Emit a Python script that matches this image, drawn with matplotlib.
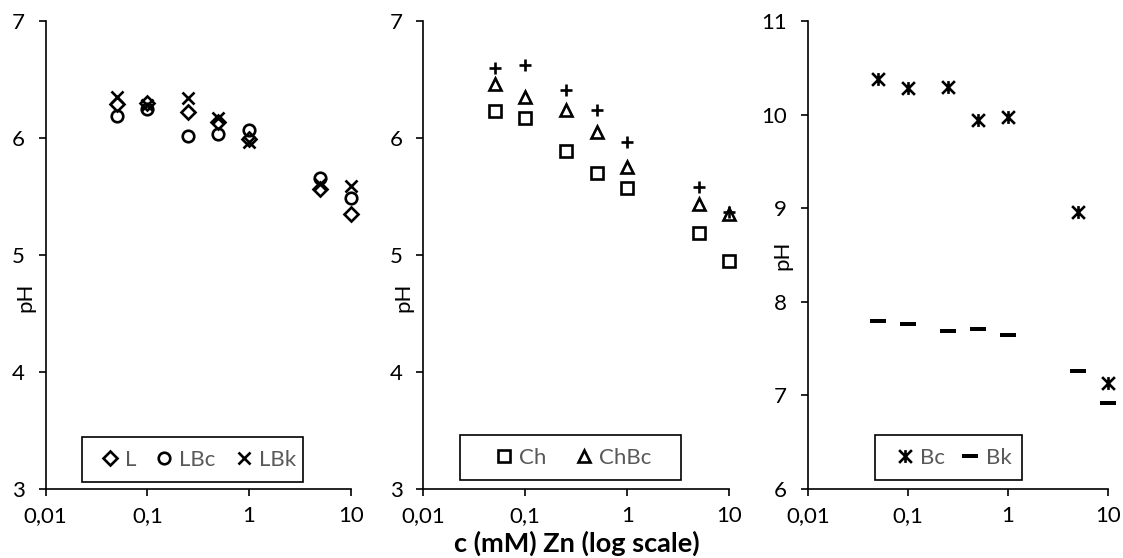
import numpy as np
import matplotlib
matplotlib.use("Agg")
import matplotlib.pyplot as plt
from matplotlib.path import Path
from matplotlib.patches import Rectangle
from matplotlib.ticker import FixedLocator, FixedFormatter, NullLocator

plt.rcParams['font.family'] = ['Lato', 'DejaVu Sans']

# Zn concentration (mM)
conc = [0.05, 0.1, 0.25, 0.5, 1, 5, 10]

# panel 1
ph_L = [6.29, 6.30, 6.22, 6.14, 5.99, 5.56, 5.35]
ph_LBc = [6.19, 6.25, 6.02, 6.03, 6.07, 5.66, 5.49]
ph_LBk = [6.35, 6.28, 6.34, 6.17, 5.97, 5.61, 5.59]

# panel 2
ph_Ch = [6.23, 6.17, 5.89, 5.70, 5.57, 5.19, 4.95]
ph_ChBc = [6.46, 6.35, 6.24, 6.05, 5.75, 5.44, 5.35]
ph_ChBk = [6.60, 6.62, 6.41, 6.24, 5.97, 5.58, 5.37]

# panel 3
ph_Bc = [10.38, 10.28, 10.29, 9.94, 9.97, 8.96, 7.13]
ph_Bk = [7.79, 7.76, 7.69, 7.705, 7.645, 7.26, 6.915]

xticks = [0.01, 0.1, 1, 10]
xticklabels = ['0,01', '0,1', '1', '10']

W, H = 1123, 558
FS = 16
fig = plt.figure(figsize=(W / 100, H / 100), dpi=100)


def px_axes(x0, y0, x1, y1):
    return fig.add_axes([x0 / W, 1 - y1 / H, (x1 - x0) / W, (y1 - y0) / H])


# excel style star (x with vertical bar) and dash markers
star = Path([(-1, -1), (1, 1), (-1, 1), (1, -1), (0, -1), (0, 1)],
            [Path.MOVETO, Path.LINETO, Path.MOVETO, Path.LINETO, Path.MOVETO, Path.LINETO])
dash = Path([(-1, -0.25), (1, -0.25), (1, 0.25), (-1, 0.25), (-1, -0.25)],
            [Path.MOVETO, Path.LINETO, Path.LINETO, Path.LINETO, Path.CLOSEPOLY])

open_kw = dict(ls='none', mfc='none', mec='black', mew=1.9, clip_on=False)


def style(ax, ylim, yticks):
    ax.set_xscale('log')
    ax.set_xlim(0.01, 10)
    ax.set_ylim(*ylim)
    ax.xaxis.set_major_locator(FixedLocator(xticks))
    ax.xaxis.set_major_formatter(FixedFormatter(xticklabels))
    ax.xaxis.set_minor_locator(NullLocator())
    ax.set_yticks(yticks)
    for s in ['top', 'right']:
        ax.spines[s].set_visible(False)
    for s in ['left', 'bottom']:
        ax.spines[s].set_linewidth(1.2)
    ax.tick_params(axis='both', direction='out', length=5, width=1.2, labelsize=FS)
    ax.tick_params(axis='x', pad=7)
    ax.tick_params(axis='y', pad=10)


def legend_at(ax, x, yc, colspace, frame):
    leg = ax.legend(loc='center left', bbox_to_anchor=(x / W, 1 - yc / H),
                    bbox_transform=fig.transFigure, ncol=3, frameon=False,
                    fontsize=FS, handlelength=1.0, handletextpad=0.18,
                    columnspacing=colspace, borderpad=0, borderaxespad=0)
    for t in leg.get_texts():
        t.set_color('#595959')
    fx0, fy0, fx1, fy1 = frame
    fig.patches.append(Rectangle((fx0 / W, 1 - fy1 / H), (fx1 - fx0) / W, (fy1 - fy0) / H,
                                 transform=fig.transFigure, fill=False,
                                 edgecolor='black', linewidth=1.2))


# panel 1
ax1 = px_axes(45.7, 21, 350.7, 489)
ax1.plot(conc, ph_L, marker='D', ms=6.9, label='L', **open_kw)
ax1.plot(conc, ph_LBc, marker='o', ms=8.3, label='LBc', **open_kw)
ax1.plot(conc, ph_LBk, marker='x', ms=8.8, label='LBk', **open_kw)
style(ax1, (3, 7), [3, 4, 5, 6, 7])
ax1.set_ylabel('pH', fontsize=FS, ha='center', va='center', rotation_mode='default')
ax1.yaxis.set_label_coords(-0.068, 0.41)
legend_at(ax1, 99, 459.5, 0.75, (82, 437, 303, 482))

# panel 2
ax2 = px_axes(423.3, 21, 729.3, 489)
ax2.plot(conc, ph_Ch, marker='s', ms=8.3, label='Ch', **open_kw)
ax2.plot(conc, ph_ChBc, marker='^', ms=8.6, label='ChBc', **open_kw)
ax2.plot(conc, ph_ChBk, marker='+', ms=9.2, ls='none', mec='black', mew=1.9, clip_on=False)
style(ax2, (3, 7), [3, 4, 5, 6, 7])
ax2.set_ylabel('pH', fontsize=FS, ha='center', va='center', rotation_mode='default')
ax2.yaxis.set_label_coords(-0.066, 0.41)
legend_at(ax2, 493, 457.5, 1.2, (460, 435, 681, 480))

# panel 3
ax3 = px_axes(808, 21, 1107.7, 489)
ax3.plot(conc, ph_Bc, marker=star, ms=9.2, label='Bc', **open_kw)
ax3.plot(conc, ph_Bk, marker=dash, ms=11.5, ls='none', mfc='black', mec='black', mew=0,
         label='Bk', clip_on=False)
style(ax3, (6, 11), [6, 7, 8, 9, 10, 11])
ax3.set_ylabel('pH', fontsize=FS, ha='center', va='center', rotation_mode='default')
ax3.yaxis.set_label_coords(-0.087, 0.5)
legend_at(ax3, 893.7, 457.5, 0.65, (875, 435, 1021.7, 480))

fig.text(577 / W, 1 - 543 / H, 'c (mM) Zn (log scale)', ha='center', va='center',
         fontsize=19.5, fontweight='bold')

fig.savefig('out.png', dpi=100)
